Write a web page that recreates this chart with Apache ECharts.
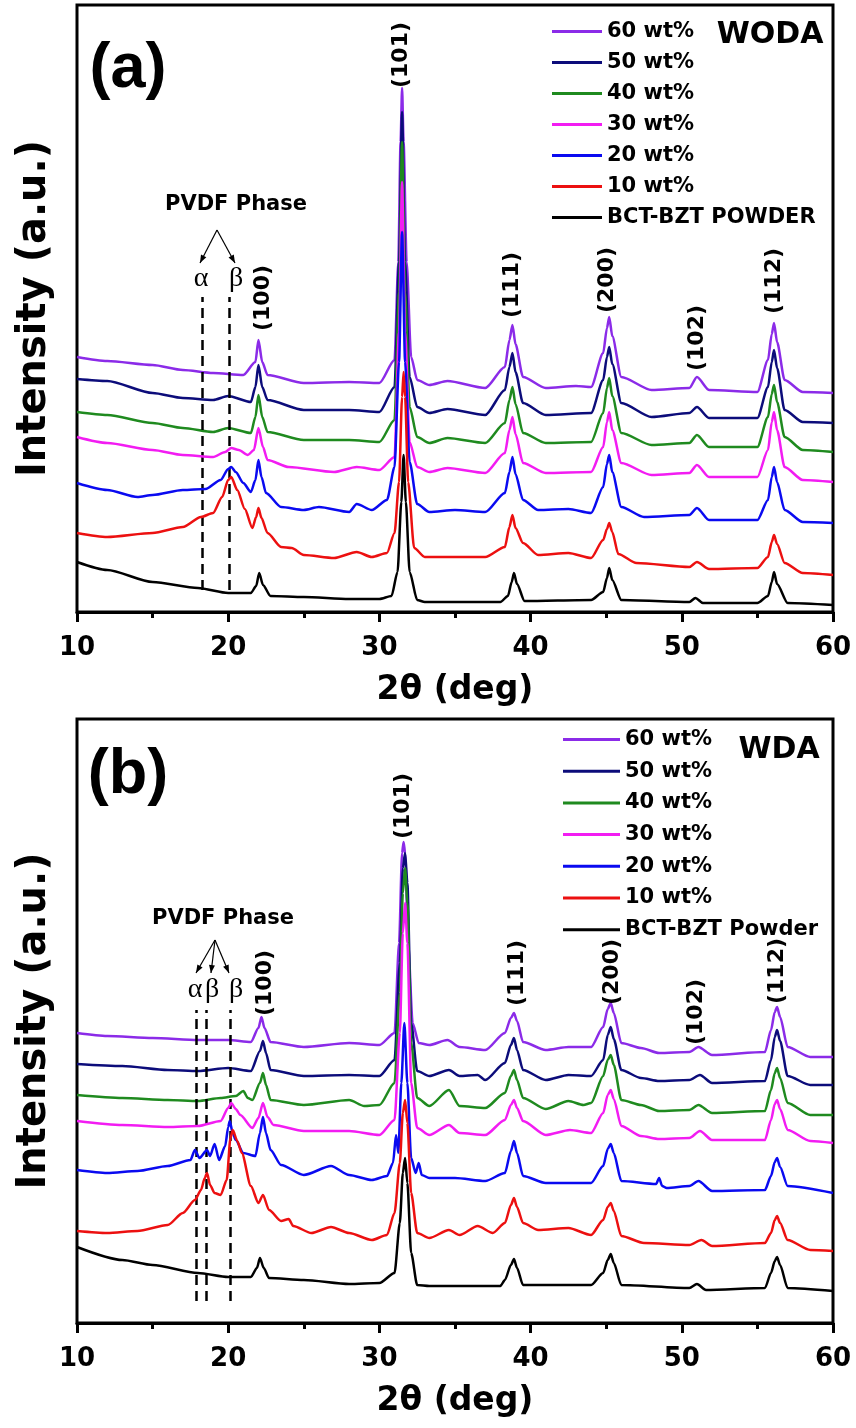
<!DOCTYPE html>
<html>
<head>
<meta charset="utf-8">
<script src="https://cdn.jsdelivr.net/npm/echarts@6/dist/echarts.min.js"></script>
<style>
html,body{margin:0;padding:0;background:#fff;}
#chart{width:856px;height:1428px;}
</style>
</head>
<body>
<div id="chart"></div>
<script>
// legend names, top to bottom
var namesA = ['60 wt%', '50 wt%', '40 wt%', '30 wt%', '20 wt%', '10 wt%', 'BCT-BZT POWDER'];
var namesB = ['60 wt%', '50 wt%', '40 wt%', '30 wt%', '20 wt%', '10 wt%', 'BCT-BZT Powder'];
var colors = ['#8b2be8', '#0c0c7a', '#1f8a1f', '#f21cf2', '#0a0af0', '#ec1010', '#000000'];

// PVDF phase marker positions (2theta)
var pvdfA = [18.3, 20.1];
var pvdfB = [17.9, 18.55, 20.15];

// (a) WODA traces: [2theta, intensity (offset, a.u.)]
var wodaPowder = [[10,50],[12,42],[15,30],[18,24],[20,19],[21.5,19],[21.85,26],[22.05,39],[22.3,27],[22.8,16],[25,15],[28,13],[30,13],[30.8,16],[31.2,40],[31.45,110],[31.6,157],[31.75,110],[32.0,40],[32.5,12],[33,10],[38,10],[38.5,16],[38.75,30],[38.9,39],[39.1,28],[39.6,11],[44,12],[44.8,20],[45.05,34],[45.2,44],[45.4,32],[46,12],[50.5,10],[50.9,14],[51.4,9],[55,9],[55.7,16],[55.95,30],[56.1,40],[56.3,28],[57,9],[60,7]];
var woda10 = [[10,79],[12,75],[15,79],[17,85],[18.2,95],[19,99],[19.6,115],[20.0,132],[20.2,135],[20.6,122],[21.1,103],[21.6,84],[21.85,95],[22.0,104],[22.2,94],[22.6,79],[23.5,65],[24.2,64],[25,57],[27,54],[28.5,60],[29.5,55],[30.5,59],[31.0,79],[31.3,130],[31.5,215],[31.6,240],[31.7,215],[31.9,130],[32.3,64],[33,55],[35,55],[37,55],[38.3,65],[38.6,85],[38.8,97],[39.0,84],[39.5,69],[40.5,57],[42.5,59],[44,54],[44.8,72],[45.05,83],[45.2,89],[45.4,80],[45.8,58],[47,49],[50.5,45],[51,50],[51.8,43],[55,44],[55.7,55],[55.95,70],[56.1,77],[56.3,68],[56.8,49],[58,39],[60,37]];
var woda20 = [[10,129],[12,122],[14,115],[15,117],[17,122],[18.5,123],[19.5,132],[20.0,143],[20.2,145],[20.5,140],[21,129],[21.5,120],[21.8,132],[22.0,152],[22.2,135],[22.5,119],[23.5,105],[25,102],[26,105],[28,100],[28.5,108],[29.5,102],[30.5,112],[31.0,145],[31.3,250],[31.5,380],[31.7,250],[32.0,150],[32.5,108],[33.3,100],[35,102],[37,100],[38.3,119],[38.6,140],[38.8,155],[39.0,138],[39.5,112],[40.5,102],[42.5,103],[44,99],[44.8,125],[45.05,148],[45.2,157],[45.4,140],[46,105],[47.5,95],[50.5,97],[51,104],[51.8,92],[55,92],[55.7,112],[55.95,135],[56.1,145],[56.3,130],[56.8,102],[58,90],[60,89]];
var woda30 = [[10,175],[12,169],[15,162],[17,157],[19,155],[19.8,160],[20.2,164],[20.7,162],[21.3,157],[21.7,162],[22.0,184],[22.3,165],[22.6,152],[24,145],[27,140],[28.5,145],[30,142],[31.0,155],[31.3,280],[31.5,430],[31.7,280],[32.0,170],[32.5,145],[33.3,140],[34.5,144],[37,139],[38.3,159],[38.6,182],[38.8,195],[39.0,178],[39.5,149],[41,139],[44,140],[44.8,165],[45.05,190],[45.2,200],[45.4,182],[46,149],[48,137],[50.5,139],[51,147],[51.8,135],[55,135],[55.7,162],[55.95,190],[56.1,200],[56.3,182],[56.8,145],[58,132],[60,130]];
var woda40 = [[10,200],[12,197],[15,189],[17,184],[19,180],[20,184],[21.5,179],[21.8,195],[22.0,217],[22.25,195],[22.6,180],[25,172],[28,172],[30,170],[31.0,192],[31.3,320],[31.5,470],[31.7,320],[32.0,205],[32.5,175],[33.3,169],[34.5,174],[37,169],[38.3,189],[38.6,212],[38.8,225],[39.0,208],[39.5,179],[41,169],[44,170],[44.8,199],[45.05,224],[45.2,234],[45.4,216],[46,179],[48,167],[50.5,169],[51,177],[51.8,165],[55,165],[55.7,195],[55.95,218],[56.1,227],[56.3,210],[56.8,175],[58,162],[60,160]];
var woda50 = [[10,233],[12,231],[15,219],[17,214],[19,212],[20,216],[21.5,210],[21.8,225],[22.0,247],[22.25,225],[22.6,212],[25,202],[28,202],[30,200],[31.0,225],[31.3,350],[31.5,500],[31.7,350],[32.0,235],[32.5,205],[33.3,199],[34.5,203],[37,197],[38.3,222],[38.6,245],[38.8,259],[39.0,240],[39.5,209],[41,197],[44,199],[44.8,232],[45.05,255],[45.2,265],[45.4,248],[46,209],[48,195],[50.5,199],[51,205],[51.8,194],[55,194],[55.7,225],[55.95,250],[56.1,262],[56.3,244],[56.8,202],[58,190],[60,189]];
var woda60 = [[10,255],[12,251],[15,247],[17,242],[19,239],[21,237],[21.8,250],[22.0,272],[22.25,250],[22.6,237],[25,229],[28,230],[30,229],[31.0,252],[31.25,350],[31.4,470],[31.5,524],[31.6,470],[31.8,350],[32.1,255],[32.5,232],[33.3,227],[34.5,231],[37,224],[38.3,245],[38.6,272],[38.8,287],[39.0,268],[39.5,235],[41,224],[43,226],[44,225],[44.8,259],[45.05,284],[45.2,295],[45.4,276],[46,235],[48,222],[50.5,224],[51,235],[51.8,222],[55,220],[55.7,252],[55.95,278],[56.1,289],[56.3,270],[56.8,232],[58,220],[60,219]];

// (b) WDA traces
var wdaPowder = [[10,76],[13,63],[15,58],[18,50],[20,46],[21.5,46],[21.9,55],[22.1,65],[22.35,55],[22.7,45],[25,43],[28,39],[30,40],[31.0,50],[31.35,100],[31.55,150],[31.7,165],[31.85,140],[32.1,70],[32.5,38],[33.3,37],[38,37],[38.3,43],[38.7,58],[38.9,64],[39.1,55],[39.5,38],[44,38],[44.8,50],[45.1,63],[45.3,69],[45.5,60],[46,38],[50.5,35],[51.0,39],[51.6,33],[55.5,35],[55.9,50],[56.15,62],[56.3,66],[56.5,58],[57,35],[60,32]];
var wda10 = [[10,92],[12,90],[14,92],[16,98],[17,110],[17.8,123],[18.2,133],[18.45,145],[18.6,150],[18.8,138],[19.1,130],[19.5,128],[19.9,143],[20.15,185],[20.3,193],[20.6,182],[20.9,170],[21.5,137],[22,120],[22.3,128],[22.7,113],[23.5,102],[24.0,104],[24.3,97],[25.5,90],[26.8,96],[28,90],[29.5,83],[30.5,88],[31.0,110],[31.35,160],[31.55,210],[31.7,223],[31.85,200],[32.1,130],[32.5,90],[33.3,85],[34.6,93],[35.3,88],[36.5,97],[37.5,90],[38.3,100],[38.7,118],[38.9,125],[39.1,116],[39.5,100],[40.5,93],[42.5,95],[44,88],[44.8,103],[45.1,116],[45.3,120],[45.5,112],[46,87],[47.5,80],[50.5,78],[51.3,83],[52,77],[55.5,80],[55.9,90],[56.15,103],[56.3,107],[56.5,100],[57,83],[58.5,73],[60,72]];
var wda20 = [[10,153],[12,150],[14,152],[16,157],[17.5,163],[17.8,173],[18.1,165],[18.6,173],[18.8,167],[19.1,179],[19.4,163],[19.8,177],[20.0,196],[20.1,202],[20.3,190],[20.5,183],[21,170],[21.8,167],[22.1,190],[22.3,206],[22.5,190],[22.8,173],[23.5,158],[25,148],[26.8,157],[28,148],[29.5,143],[30.5,147],[30.9,160],[31.1,188],[31.25,170],[31.45,240],[31.65,300],[31.85,240],[32.1,165],[32.4,150],[32.6,160],[32.8,148],[33.3,145],[35,145],[37,142],[38.3,150],[38.7,172],[38.9,182],[39.1,170],[39.5,147],[41,140],[44,140],[44.8,157],[45.1,174],[45.3,179],[45.5,170],[46,142],[48.3,139],[48.5,145],[48.7,137],[49,135],[50.5,137],[51.1,142],[52,132],[55.5,133],[55.9,147],[56.15,161],[56.3,165],[56.5,156],[57,137],[60,130]];
var wda30 = [[10,202],[13,198],[16,196],[18,197],[19.5,202],[20.0,215],[20.2,220],[20.5,214],[20.8,208],[21.6,195],[22.0,205],[22.3,220],[22.6,206],[23,198],[25,192],[28,192],[30,188],[31.0,203],[31.35,290],[31.55,390],[31.7,420],[31.85,380],[32.1,240],[32.5,195],[33.3,188],[34.6,198],[35.3,190],[37,188],[38.3,203],[38.7,218],[38.9,223],[39.1,215],[39.5,202],[41,188],[42.6,193],[44,190],[44.8,210],[45.1,228],[45.3,233],[45.5,224],[46,197],[47.3,187],[48.5,184],[50.5,185],[51.2,192],[52,183],[55.5,183],[55.9,203],[56.15,219],[56.3,223],[56.5,214],[57,193],[58.5,182],[60,180]];
var wda40 = [[10,228],[13,225],[16,223],[18,222],[19.5,225],[20.5,227],[21,232],[21.3,225],[21.6,223],[22.1,240],[22.3,250],[22.5,238],[22.8,223],[25,218],[28,223],[29,217],[30,218],[31.0,240],[31.35,330],[31.55,430],[31.7,455],[31.85,420],[32.1,280],[32.5,225],[33.3,217],[34.6,233],[35.3,217],[37,215],[38.3,230],[38.7,247],[38.9,253],[39.1,243],[39.5,225],[41,214],[42.5,222],[43.5,218],[44,220],[44.8,247],[45.1,263],[45.3,268],[45.5,258],[46,223],[47.3,218],[48.5,212],[50.5,213],[51.1,218],[52,210],[55.5,212],[55.9,233],[56.15,250],[56.3,255],[56.5,245],[57,220],[58.5,208],[60,208]];
var wda50 = [[10,259],[13,257],[16,253],[18,252],[20,255],[21.5,252],[22.1,272],[22.3,282],[22.5,270],[22.8,253],[25,247],[28,248],[30,247],[31.0,263],[31.35,360],[31.55,455],[31.7,470],[31.85,440],[32.1,300],[32.5,252],[33.3,247],[34.6,253],[35.3,247],[36.5,248],[37,243],[38.3,260],[38.7,278],[38.9,285],[39.1,273],[39.5,253],[41,243],[42.5,248],[44,247],[44.8,263],[45.1,288],[45.3,296],[45.5,284],[46,253],[47.3,245],[48.5,242],[50.5,243],[51.2,248],[52,240],[55.5,242],[55.9,263],[56.15,286],[56.3,293],[56.5,282],[57,247],[58.5,238],[60,238]];
var wda60 = [[10,290],[12,287],[15,285],[18,283],[20,283],[21.5,281],[22.0,295],[22.2,306],[22.4,295],[22.8,281],[25,276],[28,280],[30,278],[31.0,290],[31.3,380],[31.5,470],[31.6,481],[31.7,470],[31.9,380],[32.2,300],[32.6,280],[33.3,278],[34.5,283],[35.3,276],[37,273],[38.3,290],[38.7,305],[38.9,310],[39.1,302],[39.5,281],[41,273],[42.5,276],[44,276],[44.8,296],[45.1,314],[45.3,320],[45.5,310],[46,280],[47.3,275],[48.5,270],[50.5,271],[51.1,276],[52,268],[55.5,271],[55.9,293],[56.15,311],[56.3,316],[56.5,306],[57,276],[58.5,266],[60,266]];

var tracesA = [woda60, woda50, woda40, woda30, woda20, woda10, wodaPowder];
var tracesB = [wda60, wda50, wda40, wda30, wda20, wda10, wdaPowder];

var SANS = '"DejaVu Sans"';
var myChart = echarts.init(document.getElementById('chart'));

function xAx(idx) {
	return {
		type: 'value', gridIndex: idx, min: 10, max: 60, interval: 10,
		name: '2\u03b8 (deg)', nameLocation: 'middle', nameGap: 62,
		nameTextStyle: { fontFamily: SANS, fontWeight: 'bold', fontSize: 33, color: '#000' },
		axisLine: { lineStyle: { color: '#000', width: 3 } },
		axisTick: { inside: false, length: 10, lineStyle: { color: '#000', width: 3 } },
		minorTick: { show: true, splitNumber: 2, length: 6, lineStyle: { color: '#000', width: 3 } },
		axisLabel: { margin: 23, fontFamily: SANS, fontWeight: 'bold', fontSize: 26, color: '#000' },
		splitLine: { show: false }
	};
}
function yAx(idx, max) {
	return {
		type: 'value', gridIndex: idx, min: 0, max: max,
		name: 'Intensity (a.u.)', nameLocation: 'middle', nameGap: 22, nameRotate: 90,
		nameTextStyle: { fontFamily: SANS, fontWeight: 'bold', fontSize: 40, color: '#000' },
		axisLine: { show: false }, axisTick: { show: false }, axisLabel: { show: false },
		splitLine: { show: false }
	};
}

var series = [];
function addPanel(p, names, traces, pvdf, dashTop) {
	for (var i = 0; i < traces.length; i++) {
		var s = {
			type: 'line', name: names[i], xAxisIndex: p, yAxisIndex: p,
			data: traces[i], symbol: 'none', smooth: 0.25, smoothMonotone: 'x',
			lineStyle: { color: colors[i], width: 2.5 }, itemStyle: { color: colors[i] },
			z: 2 + i
		};
		if (i == traces.length - 1) {
			s.markLine = {
				silent: true, symbol: ['none', 'none'], label: { show: false },
				lineStyle: { color: '#000', width: 2.5, type: [10, 6] },
				data: pvdf.map(function (x) { return [{ coord: [x, 22] }, { coord: [x, dashTop] }]; })
			};
		}
		series.push(s);
	}
}
addPanel(0, namesA, tracesA, pvdfA, 315);
addPanel(1, namesB, tracesB, pvdfB, 313);

// flat bar used as legend swatch, so no symbol dot is shown
function legendAt(names, left, top, w, gap) {
	return {
		data: names, orient: 'vertical', left: left, top: top,
		icon: 'path://M0,0 H' + w + ' V3 H0 Z',
		itemWidth: w, itemHeight: 20, itemGap: gap, selectedMode: false,
		textStyle: { fontFamily: SANS, fontWeight: 'bold', fontSize: 21, color: '#000' }
	};
}

function txt(s, x, y, font, rot) {
	return {
		type: 'text', x: x, y: y, rotation: rot ? Math.PI / 2 : 0, z: 100,
		style: { text: s, font: font, fill: '#000', align: 'center', verticalAlign: 'middle' }
	};
}
function arrow(x1, y1, x2, y2) {
	var a = Math.atan2(y2 - y1, x2 - x1), L = 8, W = 3;
	var p2 = [x2 - L * Math.cos(a) + W * Math.sin(a), y2 - L * Math.sin(a) - W * Math.cos(a)];
	var p3 = [x2 - L * Math.cos(a) - W * Math.sin(a), y2 - L * Math.sin(a) + W * Math.cos(a)];
	return [
		{ type: 'line', z: 100, shape: { x1: x1, y1: y1, x2: x2, y2: y2 }, style: { stroke: '#000', lineWidth: 1.2 } },
		{ type: 'polygon', z: 100, shape: { points: [[x2, y2], p2, p3] }, style: { fill: '#000' } }
	];
}

var big = 'bold 63px "Liberation Sans"';
var hkl = 'bold 22px ' + SANS;
var tag = 'bold 30px ' + SANS;
var phase = 'bold 21px ' + SANS;
var greek = '28px "Liberation Serif"';

var graphic = [
	txt('(a)', 128, 70, big), txt('WODA', 770, 35, tag),
	txt('PVDF Phase', 236, 205, phase),
	txt('\u03b1', 201, 279, greek), txt('\u03b2', 236, 279, greek),
	txt('(100)', 263, 298, hkl, true), txt('(101)', 401, 55, hkl, true),
	txt('(111)', 512, 285, hkl, true), txt('(200)', 607, 280, hkl, true),
	txt('(102)', 697, 338, hkl, true), txt('(112)', 774, 281, hkl, true),

	txt('(b)', 128, 776, big), txt('WDA', 779, 750, tag),
	txt('PVDF Phase', 223, 919, phase),
	txt('\u03b1', 195, 990, greek), txt('\u03b2', 212, 990, greek), txt('\u03b2', 236, 990, greek),
	txt('(100)', 265, 983, hkl, true), txt('(101)', 403, 806, hkl, true),
	txt('(111)', 517, 973, hkl, true), txt('(200)', 612, 972, hkl, true),
	txt('(102)', 696, 1012, hkl, true), txt('(112)', 777, 971, hkl, true)
].concat(arrow(217, 230, 200, 263), arrow(217, 230, 235, 263),
	arrow(215, 940, 196, 973), arrow(215, 940, 211, 973), arrow(215, 940, 229, 973));

var option = {
	animation: false,
	backgroundColor: '#fff',
	grid: [
		{ left: 77, top: 5, width: 756, height: 607, show: true, borderColor: '#000', borderWidth: 3 },
		{ left: 77, top: 719, width: 756, height: 604, show: true, borderColor: '#000', borderWidth: 3 }
	],
	xAxis: [xAx(0), xAx(1)],
	yAxis: [yAx(0, 607), yAx(1, 604)],
	legend: [legendAt(namesA, 547, 16, 50, 10), legendAt(namesB, 558, 724, 57, 10.7)],
	series: series,
	graphic: graphic
};
myChart.setOption(option);
</script>
</body>
</html>
